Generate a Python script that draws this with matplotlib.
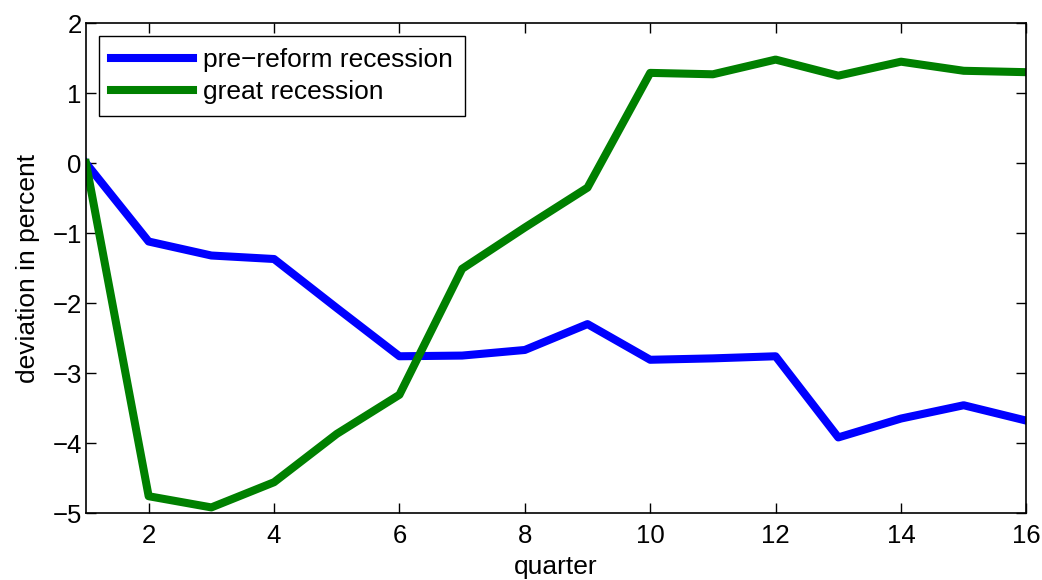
import matplotlib
matplotlib.use('Agg')
import matplotlib.pyplot as plt

plt.rcParams['font.family'] = ['Liberation Sans', 'DejaVu Sans']

# quarters since start of recession
quarters = list(range(1, 17))
# deviation in percent
pre_reform = [0.0, -1.12, -1.32, -1.37, -2.07, -2.76, -2.75, -2.67, -2.30,
              -2.81, -2.79, -2.76, -3.92, -3.65, -3.46, -3.68]
great = [0.0, -4.76, -4.92, -4.56, -3.87, -3.31, -1.51, -0.92, -0.35,
         1.29, 1.27, 1.48, 1.25, 1.45, 1.32, 1.30]

fig = plt.figure(figsize=(10.42, 5.8), dpi=100)
ax = fig.add_axes([0.0825, 0.1155, 0.9025, 0.8445])

ax.plot(quarters, pre_reform, color='#0000ff', lw=5.8, label='pre\u2212reform recession')
ax.plot(quarters, great, color='#008000', lw=5.8, label='great recession')

ax.set_xlim(1, 16)
ax.set_ylim(-5, 2)
ax.set_xticks(range(2, 17, 2))
ax.set_yticks(range(-5, 3))
ax.set_yticklabels(['\u22125', '\u22124', '\u22123', '\u22122', '\u22121', '0', '1', '2'])
ax.tick_params(direction='in', length=7, width=1, top=True, right=True,
               labelsize=18.5)
ax.tick_params(axis='x', pad=8)
ax.tick_params(axis='y', pad=3)
for s in ax.spines.values():
    s.set_linewidth(1.2)

ax.set_xlabel('quarter', fontsize=19, labelpad=5)
ax.set_ylabel('deviation in percent', fontsize=19, labelpad=9)

leg = ax.legend(loc='upper left', fontsize=19, handlelength=3.1, fancybox=False,
                framealpha=1, edgecolor='black', borderaxespad=0.5,
                borderpad=0.45, labelspacing=0.3, handletextpad=0.4)
leg.get_frame().set_linewidth(1)

fig.savefig('out.png', dpi=100)
